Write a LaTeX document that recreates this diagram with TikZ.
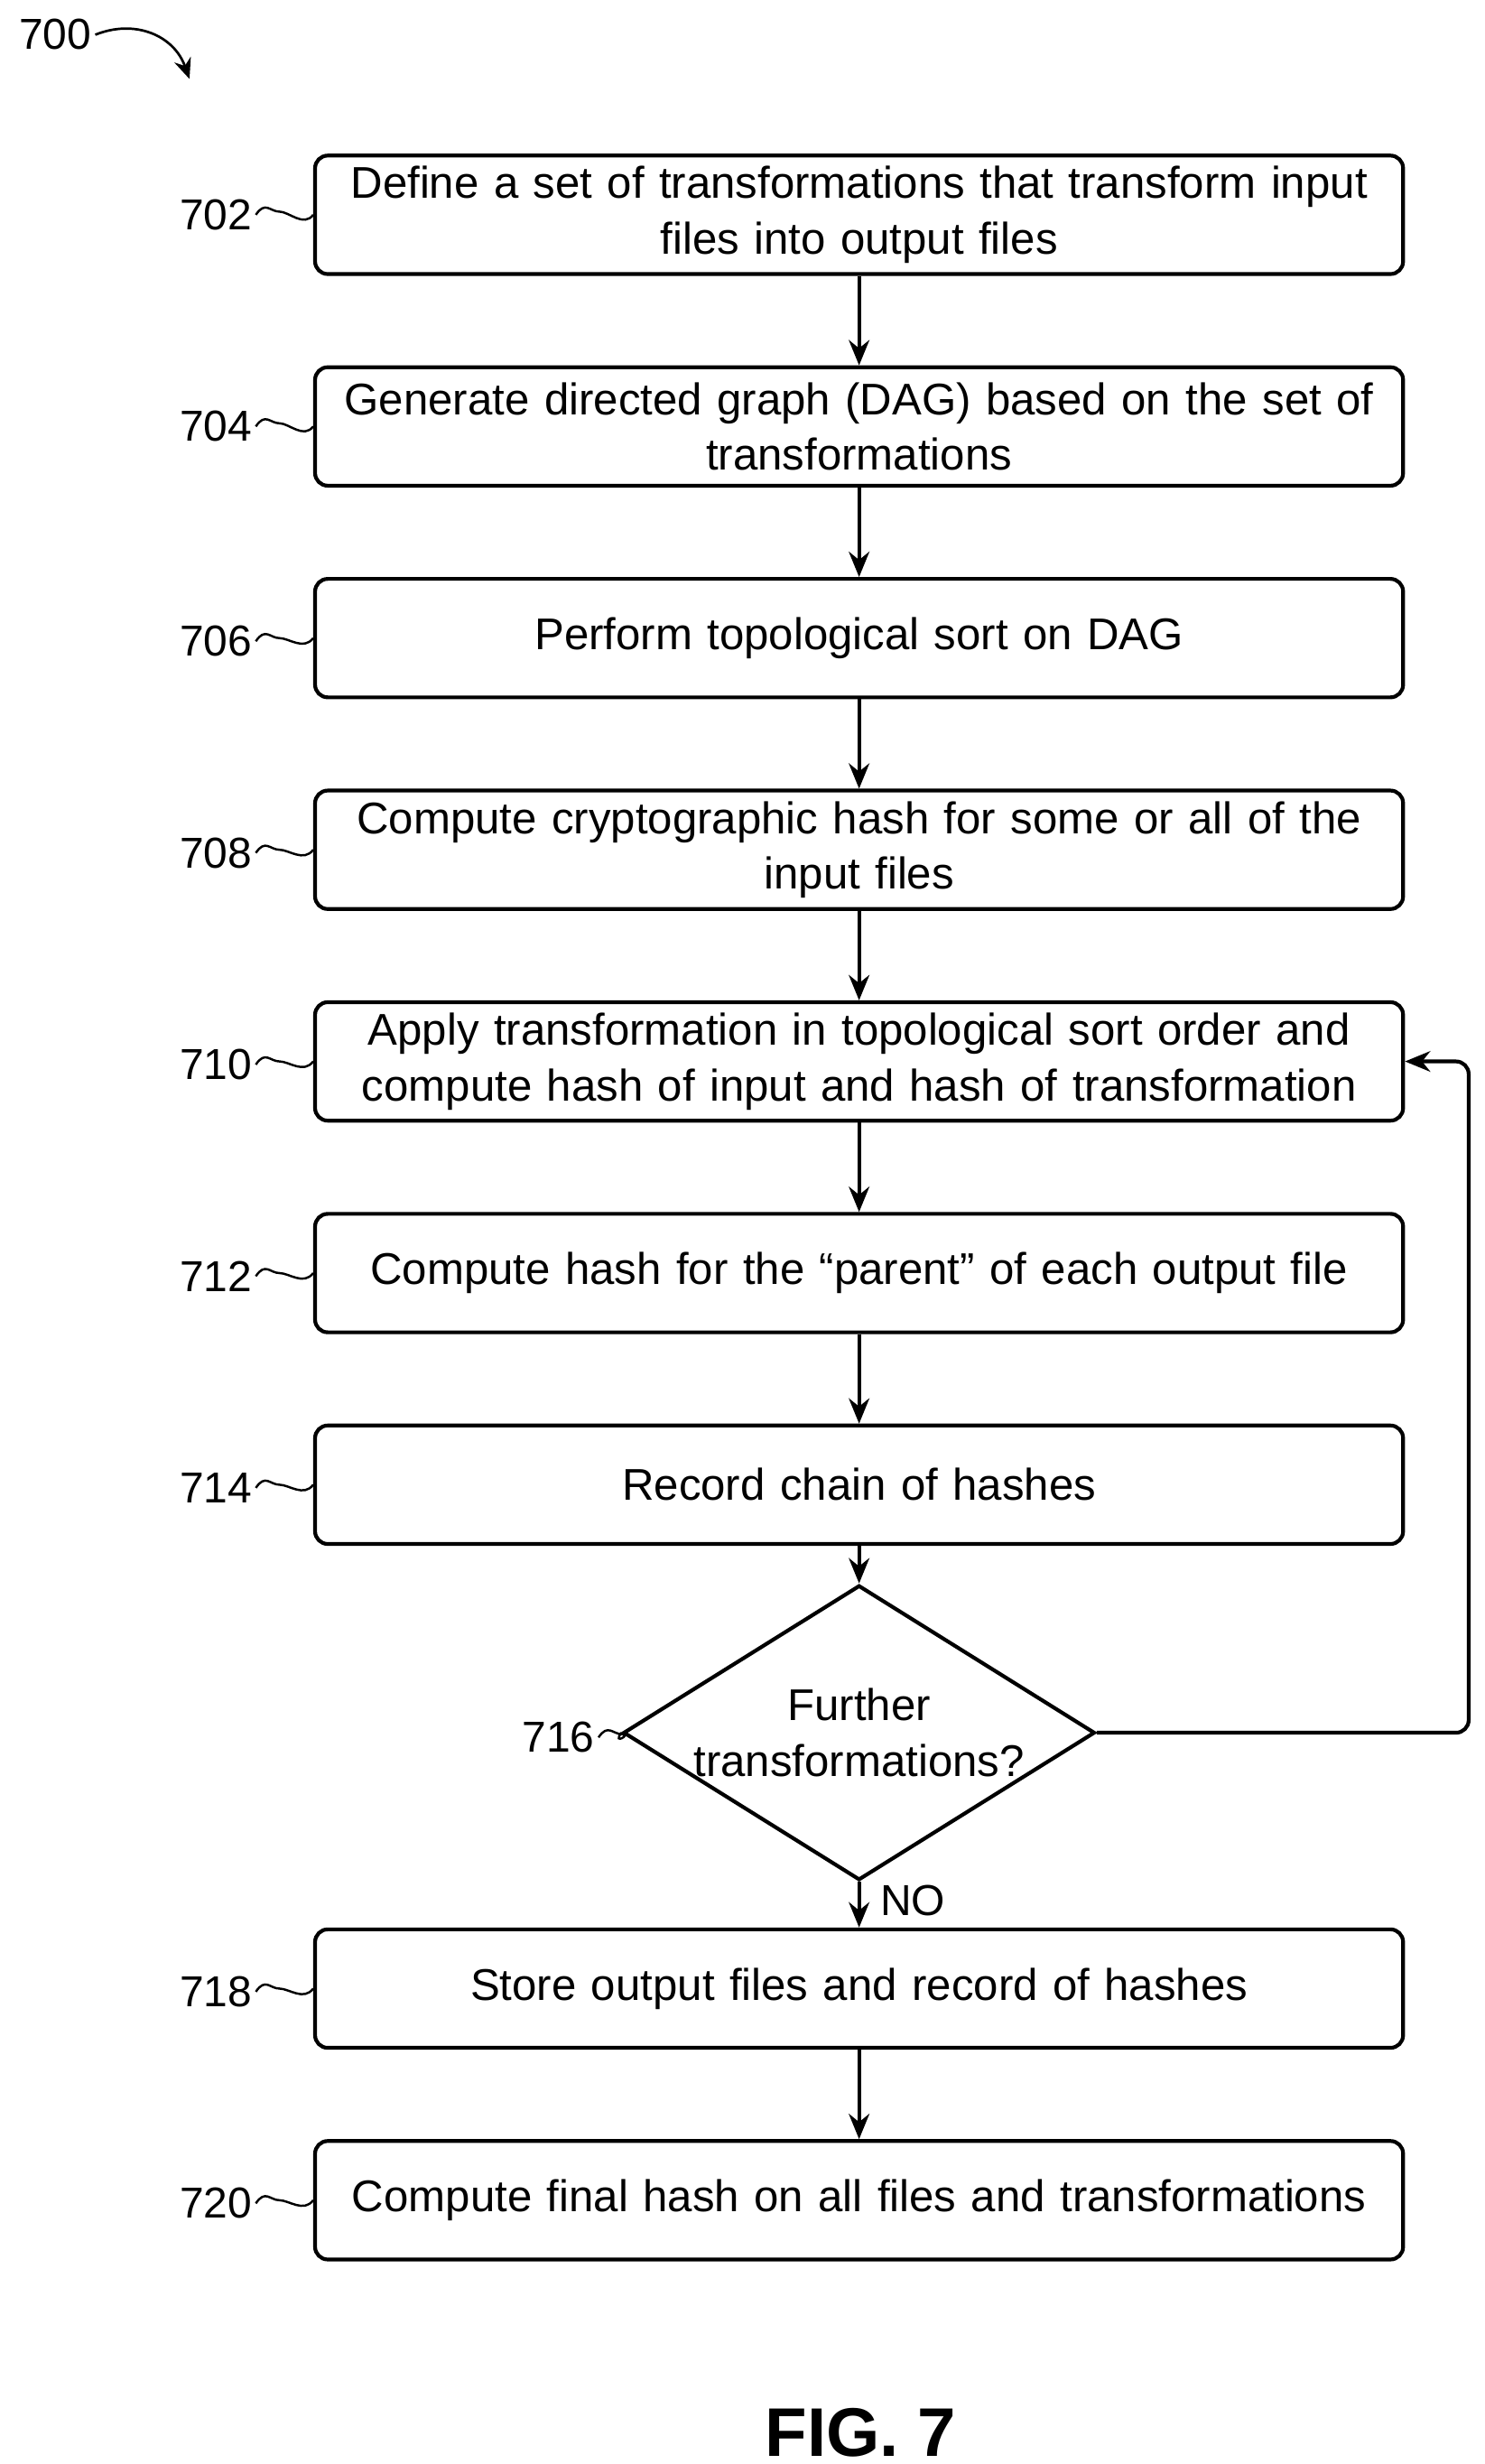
\documentclass[tikz,border=0pt]{standalone}
\usepackage{fontspec}
\setmainfont{Liberation Sans}
\usetikzlibrary{shapes.geometric, arrows.meta, positioning}

\begin{document}
\begin{tikzpicture}[x=0.05cm, y=-0.05cm,
    stage/.style={rectangle, rounded corners=0.4cm, draw, line width=3.4pt, minimum width=34.45cm, minimum height=3.75cm,
                 font=\fontsize{40}{50}\selectfont, align=center, text width=34.4cm, inner xsep=0pt},
    check/.style={diamond, draw, line width=3.4pt, minimum width=13.2cm, minimum height=8.2cm, aspect=1.6,
                  font=\fontsize{40}{50}\selectfont, align=center, inner sep=0pt},
    num/.style={font=\fontsize{39}{44}\selectfont},
    wiggle/.style={line width=2pt},
    flow/.style={line width=3.4pt, -{Stealth[length=0.8cm, width=0.65cm]}}
]
\useasboundingbox (0,0) rectangle (940,1560);

% Figure number
\node[num] (l700) at (35,22) {700};
\draw[line width=2.2pt, -{Stealth[length=0.65cm, width=0.55cm]}] (l700.east) .. controls (85,12) and (110,22) .. (120,50);

% Steps
\node[stage] (s702) at (544,136) {Define a set of transformations that transform input\\files into output files};
\node[stage] (s704) at (544,270) {Generate directed graph (DAG) based on the set of\\transformations};
\node[stage] (s706) at (544,404) {Perform topological sort on DAG};
\node[stage] (s708) at (544,538) {Compute cryptographic hash for some or all of the\\input files};
\node[stage] (s710) at (544,672) {Apply transformation in topological sort order and\\compute hash of input and hash of transformation};
\node[stage] (s712) at (544,806) {Compute hash for the “parent” of each output file};
\node[stage] (s714) at (544,940) {Record chain of hashes};
\node[check] (s716) at (544,1097) {Further\\transformations?};
\node[stage] (s718) at (544,1259) {Store output files and record of hashes};
\node[stage] (s720) at (544,1393) {Compute final hash on all files and transformations};

% Reference numerals
\node[num, anchor=east] (l702) at (162,136) {702};
\node[num, anchor=east] (l704) at (162,270) {704};
\node[num, anchor=east] (l706) at (162,406) {706};
\node[num, anchor=east] (l708) at (162,540) {708};
\node[num, anchor=east] (l710) at (162,674) {710};
\node[num, anchor=east] (l712) at (162,808) {712};
\node[num, anchor=east] (l714) at (162,942) {714};
\node[num, anchor=east] (l716) at (379,1100) {716};
\node[num, anchor=east] (l718) at (162,1261) {718};
\node[num, anchor=east] (l720) at (162,1395) {720};

\foreach \n in {702,704,706,708,710,712,714,716,718,720} {
    \draw[wiggle] (l\n.east) .. controls +(6,-9) and +(-6,0) .. ++(15,-2) .. controls +(6,0) and +(-6,8) .. (s\n.west);
}

% Flow
\draw[flow] (s702) -- (s704);
\draw[flow] (s704) -- (s706);
\draw[flow] (s706) -- (s708);
\draw[flow] (s708) -- (s710);
\draw[flow] (s710) -- (s712);
\draw[flow] (s712) -- (s714);
\draw[flow] (s714) -- (s716);
\draw[flow] (s716) -- node[num, right=0.5cm, pos=0.4] {NO} (s718);
\draw[flow] (s718) -- (s720);
\coordinate (back) at (930,1097);
\draw[flow, rounded corners=0.4cm] (s716.east) -- (back) |- (s710.east);

\node[font=\fontsize{62}{66}\selectfont\bfseries] (fig) at (545,1540) {FIG. 7};
\end{tikzpicture}
\end{document}
